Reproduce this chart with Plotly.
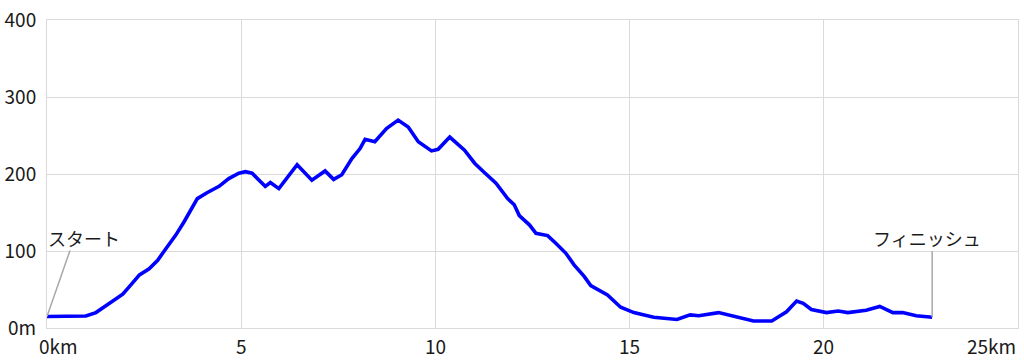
import plotly.graph_objects as go

# distance (km) and elevation (m)
dist = [0.0, 0.5, 1.0, 1.26, 1.6, 1.95, 2.16, 2.38, 2.63, 2.85, 3.06, 3.32, 3.53, 3.70,
        3.87, 4.13, 4.43, 4.68, 4.94, 5.11, 5.28, 5.5, 5.62, 5.75, 5.97, 6.44, 6.82,
        7.16, 7.38, 7.59, 7.85, 8.06, 8.19, 8.44, 8.74, 9.04, 9.3, 9.56, 9.9, 10.07,
        10.37, 10.75, 11.01, 11.26, 11.56, 11.86, 12.03, 12.16, 12.42, 12.59, 12.89,
        13.1, 13.36, 13.57, 13.83, 14.0, 14.43, 14.77, 15.11, 15.62, 16.22, 16.56,
        16.78, 17.29, 17.68, 18.19, 18.66, 19.04, 19.3, 19.47, 19.68, 20.07, 20.37,
        20.62, 21.09, 21.44, 21.78, 22.03, 22.38, 22.79]
elev = [15, 15, 15.6, 20, 32, 44, 56, 69, 77, 88, 103, 121, 138, 153,
        168, 176, 184, 194, 201, 203, 201, 190, 184, 189, 181, 212, 192,
        204, 193, 199, 220, 233, 245, 242, 259, 270, 261, 242, 230, 232,
        248, 231, 214, 202, 188, 168, 160, 146, 134, 123, 120,
        110, 97, 82, 67, 55, 43, 27, 20, 14, 11, 17,
        16, 20, 15, 9, 9, 21, 35, 32, 24, 20, 22,
        20, 23, 28, 20, 20, 16, 14]

x_tickvals = [0, 5, 10, 15, 20, 25]
x_ticktext = ["0km", "5", "10", "15", "20", "25km"]
y_tickvals = [0, 100, 200, 300, 400]
y_ticktext = ["0m", "100", "200", "300", "400"]
start_label = "スタート"
finish_label = "フィニッシュ"

FONT = "Noto Sans CJK JP, Noto Sans, sans-serif"
GRID = "#dadada"

fig = go.Figure()
fig.add_trace(go.Scatter(x=dist, y=elev, mode="lines",
                         line=dict(color="#0000ff", width=3.6),
                         hoverinfo="skip", showlegend=False))

# x tick labels as annotations (ends are kept inside the canvas)
for v, t in zip(x_tickvals, x_ticktext):
    if v == x_tickvals[0]:
        anchor, shift = "left", -10
    elif v == x_tickvals[-1]:
        anchor, shift = "right", 0
    else:
        anchor, shift = "center", 0
    fig.add_annotation(x=v, y=0, xref="x", yref="paper", text=t, showarrow=False,
                       xanchor=anchor, yanchor="middle", xshift=shift, yshift=-17,
                       font=dict(family=FONT, size=19, color="#1a1a1a"))

# start / finish callouts
fig.add_shape(type="line", xref="x", yref="y", xsizemode="pixel", ysizemode="pixel",
              xanchor=dist[0], yanchor=elev[0], x0=0, y0=0, x1=23, y1=66,
              line=dict(color="#a8a8a8", width=1.5))
fig.add_shape(type="line", xref="x", yref="y", xsizemode="pixel", ysizemode="pixel",
              xanchor=dist[-1], yanchor=elev[-1], x0=0, y0=0, x1=0, y1=66,
              line=dict(color="#a8a8a8", width=1.5))
fig.add_annotation(x=dist[0], y=elev[0], xref="x", yref="y", text=start_label,
                   showarrow=False, xanchor="left", yanchor="middle", xshift=-1, yshift=78,
                   font=dict(family=FONT, size=18, color="#1a1a1a"))
fig.add_annotation(x=dist[-1], y=elev[-1], xref="x", yref="y", text=finish_label,
                   showarrow=False, xanchor="center", yanchor="middle", xshift=-5, yshift=79,
                   font=dict(family=FONT, size=18, color="#1a1a1a"))

fig.update_xaxes(range=[0, 25], tickvals=x_tickvals, showticklabels=False,
                 showgrid=True, gridcolor=GRID, gridwidth=1, zeroline=False,
                 showline=True, linecolor=GRID, linewidth=1, mirror=True, ticks="")
fig.update_yaxes(range=[0, 400], tickvals=y_tickvals, ticktext=y_ticktext,
                 showgrid=True, gridcolor=GRID, gridwidth=1, zeroline=False,
                 showline=True, linecolor=GRID, linewidth=1, mirror=True, ticks="",
                 ticklabelstandoff=6,
                 tickfont=dict(family=FONT, size=19, color="#1a1a1a"))

fig.update_layout(width=1024, height=362, margin=dict(l=44, r=5, t=20, b=34),
                  paper_bgcolor="white", plot_bgcolor="white")

fig.write_html("out.html")
